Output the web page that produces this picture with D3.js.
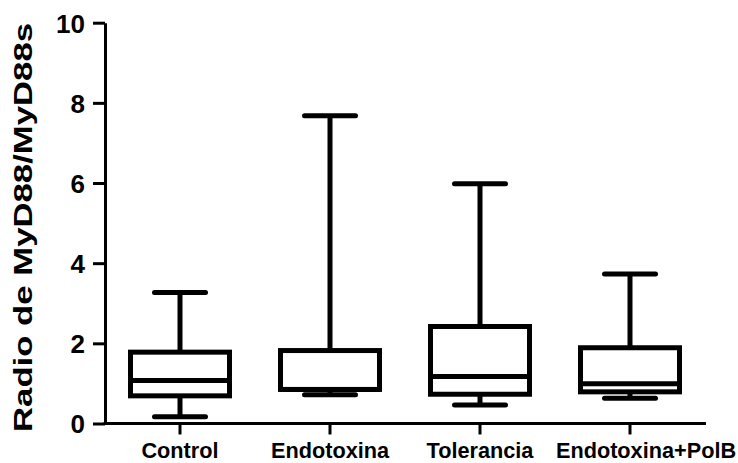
<!DOCTYPE html>
<html>
<head>
<meta charset="utf-8">
<script src="https://cdn.jsdelivr.net/npm/d3@7"></script>
<style>
  html, body { margin: 0; padding: 0; background: #fff; }
  svg { display: block; }
  text { font-family: "Liberation Sans", Arial, sans-serif; font-weight: bold; fill: #000; }
</style>
</head>
<body>
<svg id="chart" width="738" height="463"></svg>
<script>
// Box-plot summary per group: whisker ends, quartiles and median
const categories   = ["Control", "Endotoxina", "Tolerancia", "Endotoxina+PolB"];
const minValues    = [0.17, 0.72, 0.46, 0.63];
const q1Values     = [0.69, 0.85, 0.73, 0.79];
const medianValues = [1.07, 0.85, 1.17, 0.99];
const q3Values     = [1.78, 1.82, 2.42, 1.89];
const maxValues    = [3.27, 7.68, 5.98, 3.73];
const yTicks       = [0, 2, 4, 6, 8, 10];
const yTitle       = "Radio de MyD88/MyD88s";

const svg = d3.select("#chart");

const x = d3.scaleBand().domain(categories).range([105, 705]);
const y = d3.scaleLinear().domain([0, 10]).range([423.5, 22.7]);

const boxW = x.bandwidth() * 0.66;
const capW = x.bandwidth() * 0.34;

const groups = categories.map((c, i) => ({
  cat: c, min: minValues[i], q1: q1Values[i], med: medianValues[i], q3: q3Values[i], max: maxValues[i]
}));

// Axes
const yAxis = svg.append("g")
  .attr("transform", "translate(105,0)")
  .call(d3.axisLeft(y).tickValues(yTicks).tickFormat(d3.format("d")).tickSize(12).tickSizeOuter(0).tickPadding(8));
yAxis.selectAll("path, line").attr("stroke", "#000").attr("stroke-width", 3);
yAxis.selectAll("text").attr("font-size", 26).attr("dy", "0.36em");

const xAxis = svg.append("g")
  .attr("transform", "translate(0,423.5)")
  .call(d3.axisBottom(x).tickSize(11).tickSizeOuter(0));
xAxis.select(".domain").attr("d", "M103.5,0H706");
xAxis.selectAll("path, line").attr("stroke", "#000").attr("stroke-width", 3);
xAxis.selectAll("text")
  .attr("font-size", 21.7)
  .attr("y", 34.5)
  .attr("dy", 0)
  .attr("dx", (d, i) => i === categories.length - 1 ? 16 : 0);

// Y axis title, stretched along its length
svg.append("text")
  .attr("transform", "translate(32,227.5) rotate(-90)")
  .attr("text-anchor", "middle")
  .attr("font-size", 26)
  .attr("textLength", 409)
  .attr("lengthAdjust", "spacingAndGlyphs")
  .text(yTitle);

// Boxes and whiskers
const g = svg.append("g")
  .selectAll("g")
  .data(groups)
  .join("g")
  .attr("transform", d => `translate(${x(d.cat) + x.bandwidth() / 2},0)`)
  .attr("stroke", "#000")
  .attr("fill", "none");

g.append("line").attr("x1", 0).attr("x2", 0)
  .attr("y1", d => y(d.q3)).attr("y2", d => y(d.max)).attr("stroke-width", 5);
g.append("line").attr("x1", 0).attr("x2", 0)
  .attr("y1", d => y(d.q1)).attr("y2", d => y(d.min)).attr("stroke-width", 5);

g.append("line").attr("x1", -capW / 2).attr("x2", capW / 2)
  .attr("y1", d => y(d.max)).attr("y2", d => y(d.max))
  .attr("stroke-width", 5).attr("stroke-linecap", "round");
g.append("line").attr("x1", -capW / 2).attr("x2", capW / 2)
  .attr("y1", d => y(d.min)).attr("y2", d => y(d.min))
  .attr("stroke-width", 5).attr("stroke-linecap", "round");

g.append("rect")
  .attr("x", -boxW / 2).attr("width", boxW)
  .attr("y", d => y(d.q3)).attr("height", d => y(d.q1) - y(d.q3))
  .attr("fill", "#fff").attr("stroke-width", 5);

g.append("line").attr("x1", -boxW / 2).attr("x2", boxW / 2)
  .attr("y1", d => y(d.med)).attr("y2", d => y(d.med)).attr("stroke-width", 5);
</script>
</body>
</html>
